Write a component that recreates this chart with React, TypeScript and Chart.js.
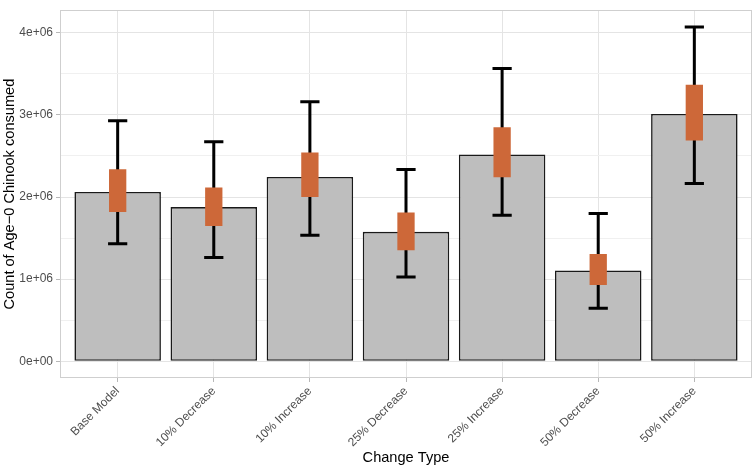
import React, { useEffect, useRef } from 'react';
import { Chart, registerables } from 'chart.js';

Chart.register(...registerables);

// Scenario labels along the x axis
const categories = [
  'Base Model',
  '10% Decrease',
  '10% Increase',
  '25% Decrease',
  '25% Increase',
  '50% Decrease',
  '50% Increase',
];

// Bar heights: estimated count of age-0 Chinook consumed
const meanValues = [2062000, 1878000, 2245000, 1576000, 2519000, 1107000, 3013000];

// Inner interval (orange box)
const innerLow = [1817000, 1646000, 2000000, 1353000, 2241000, 928000, 2690000];
const innerHigh = [2340000, 2117000, 2543000, 1811000, 2850000, 1305000, 3367000];

// Outer interval (black whiskers)
const outerLow = [1431000, 1264000, 1535000, 1027000, 1779000, 645000, 2165000];
const outerHigh = [2929000, 2675000, 3161000, 2337000, 3566000, 1799000, 4072000];

// Major y ticks with their labels, plus minor gridline positions
const yMajorTicks = [0, 1000000, 2000000, 3000000, 4000000];
const yMajorLabels = ['0e+00', '1e+06', '2e+06', '3e+06', '4e+06'];
const yMinorTicks = [500000, 1500000, 2500000, 3500000];

const FONT = '"Liberation Sans", Arial, Helvetica, sans-serif';
const GRID_MAJOR = '#E4E4E4';
const GRID_MINOR = '#F0F0F0';
const TICK_COLOR = '#B8B8B8';

// Axis expansion in the style of ggplot2 (0.6 category each side, 5% of range in y)
const yMaxData = Math.max(...outerHigh);
const yPad = yMaxData * 0.05;

const isMajor = (v: number) => yMajorTicks.includes(v);

const whiskerPlugin = {
  id: 'whiskers',
  afterDatasetDraw(chart: any, args: any) {
    if (args.index !== 0) return;
    const { ctx } = chart;
    const xs = chart.scales.x;
    const ys = chart.scales.y;
    ctx.save();
    ctx.strokeStyle = '#000000';
    ctx.lineWidth = 3;
    ctx.lineCap = 'butt';
    categories.forEach((_, i) => {
      const cx = xs.getPixelForValue(i);
      const half = xs.getPixelForValue(i + 0.1) - cx;
      const top = ys.getPixelForValue(outerHigh[i]);
      const bot = ys.getPixelForValue(outerLow[i]);
      ctx.beginPath();
      ctx.moveTo(cx, top - 1.5);
      ctx.lineTo(cx, bot + 1.5);
      ctx.moveTo(cx - half, top);
      ctx.lineTo(cx + half, top);
      ctx.moveTo(cx - half, bot);
      ctx.lineTo(cx + half, bot);
      ctx.stroke();
    });
    ctx.restore();
  },
};

const panelBorderPlugin = {
  id: 'panelBorder',
  beforeDatasetsDraw(chart: any) {
    const { ctx, chartArea } = chart;
    ctx.save();
    ctx.strokeStyle = '#CFCFCF';
    ctx.lineWidth = 1;
    ctx.strokeRect(
      Math.round(chartArea.left) + 0.5,
      Math.round(chartArea.top) + 0.5,
      Math.round(chartArea.right - chartArea.left) - 1,
      Math.round(chartArea.bottom - chartArea.top) - 1
    );
    ctx.restore();
  },
};

export default function App() {
  const canvasRef = useRef<HTMLCanvasElement | null>(null);

  useEffect(() => {
    if (!canvasRef.current) return;
    const chart = new Chart(canvasRef.current, {
      type: 'bar',
      data: {
        datasets: [
          {
            label: 'Mean',
            data: meanValues.map((v, i) => ({ x: i, y: v })),
            backgroundColor: '#BEBEBE',
            borderColor: '#1A1A1A',
            borderWidth: 1.6,
            borderSkipped: false,
            categoryPercentage: 1,
            barPercentage: 0.9,
            grouped: false,
            order: 2,
          },
          {
            label: 'Interval',
            data: innerLow.map((lo, i) => ({ x: i, y: [lo, innerHigh[i]] })),
            backgroundColor: '#CD6839',
            borderWidth: 0,
            categoryPercentage: 1,
            barPercentage: 0.18,
            grouped: false,
            order: 1,
          },
        ],
      } as any,
      options: {
        responsive: false,
        devicePixelRatio: 1,
        animation: false,
        layout: { padding: { top: 3, right: 3, left: 0, bottom: 0 } },
        plugins: {
          legend: { display: false },
          tooltip: { enabled: false },
        },
        scales: {
          x: {
            type: 'linear',
            min: -0.6,
            max: categories.length - 0.4,
            offset: false,
            afterBuildTicks: (scale: any) => {
              scale.ticks = categories.map((_, i) => ({ value: i }));
            },
            afterFit: (scale: any) => {
              scale.height = 90;
            },
            ticks: {
              autoSkip: false,
              minRotation: 45,
              maxRotation: 45,
              padding: 2,
              color: '#4D4D4D',
              font: { family: FONT, size: 12 },
              callback: (v: any) => categories[Math.round(v)] ?? '',
            },
            grid: {
              offset: false,
              color: GRID_MAJOR,
              lineWidth: 1,
              tickLength: 4,
              tickColor: TICK_COLOR,
              drawTicks: true,
            },
            border: { display: false },
            title: {
              display: true,
              text: 'Change Type',
              color: '#000000',
              font: { family: FONT, size: 14.6 },
              padding: { top: 0, bottom: 1 },
            },
          },
          y: {
            type: 'linear',
            min: -yPad,
            max: yMaxData + yPad,
            afterBuildTicks: (scale: any) => {
              scale.ticks = [...yMajorTicks, ...yMinorTicks]
                .sort((a, b) => a - b)
                .map((v) => ({ value: v }));
            },
            afterFit: (scale: any) => {
              scale.width = 60;
            },
            ticks: {
              autoSkip: false,
              padding: 3,
              color: '#4D4D4D',
              font: { family: FONT, size: 12 },
              callback: (v: any) => {
                const k = yMajorTicks.indexOf(v);
                return k >= 0 ? yMajorLabels[k] : '';
              },
            },
            grid: {
              color: (c: any) => (c.tick && isMajor(c.tick.value) ? GRID_MAJOR : GRID_MINOR),
              lineWidth: 1,
              tickLength: 4,
              tickColor: (c: any) =>
                c.tick && isMajor(c.tick.value) ? TICK_COLOR : 'rgba(0,0,0,0)',
            },
            border: { display: false },
            title: {
              display: true,
              text: 'Count of Age\u22120 Chinook consumed',
              color: '#000000',
              font: { family: FONT, size: 14.6 },
              padding: { top: 1, bottom: 0 },
            },
          },
        },
      } as any,
      plugins: [panelBorderPlugin, whiskerPlugin],
    });
    return () => chart.destroy();
  }, []);

  return (
    <div style={{ position: 'absolute', left: 0, top: 0, width: 755, height: 468, background: '#ffffff' }}>
      <canvas ref={canvasRef} width={755} height={468} />
    </div>
  );
}
